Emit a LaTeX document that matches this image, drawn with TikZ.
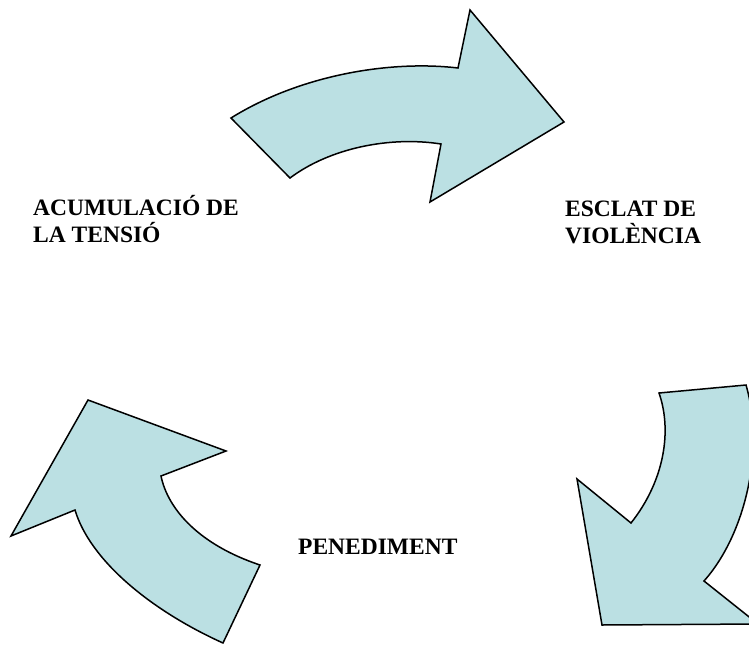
\documentclass[tikz,border=0pt]{standalone}
\usepackage{fontspec}
\setmainfont{Liberation Serif}
\definecolor{arrowfill}{RGB}{187,224,227}

\begin{document}
\begin{tikzpicture}[x=1pt, y=-1pt,
  cycle arrow/.style={fill=arrowfill, draw=black, line width=1.5pt, line join=miter},
  stage/.style={anchor=base west, align=left, inner sep=0pt,
    font=\fontsize{23.5}{27}\selectfont\bfseries}]

\useasboundingbox (0,0) rectangle (749,645);

\foreach \l/\x/\y [count=\i] in {{ACUMULACIÓ DE\\LA TENSIÓ}/33/242,
    {ESCLAT DE\\VIOLÈNCIA}/565/243, {PENEDIMENT}/298/554}
  \node [stage] (stage-\i) at (\x,\y) {\l};

% top arrow
\draw [cycle arrow] (231,118) .. controls (300,75) and (390,60) .. (458,68)
  -- (470,10) -- (564,122) -- (430,202) -- (441,144)
  .. controls (390,136) and (330,148) .. (290,178) -- cycle;

% right arrow
\draw [cycle arrow] (746,385) .. controls (765,450) and (745,535) .. (704,581)
  -- (758,624) -- (602,625) -- (577,479) -- (631,523)
  .. controls (665,480) and (672,430) .. (659,393) -- cycle;

% left arrow
\draw [cycle arrow] (223,643) .. controls (150,610) and (90,560) .. (75,510)
  -- (11,536) -- (88,400) -- (226,451) -- (161,476)
  .. controls (168,510) and (200,545) .. (260,565) -- cycle;

\end{tikzpicture}
\end{document}
